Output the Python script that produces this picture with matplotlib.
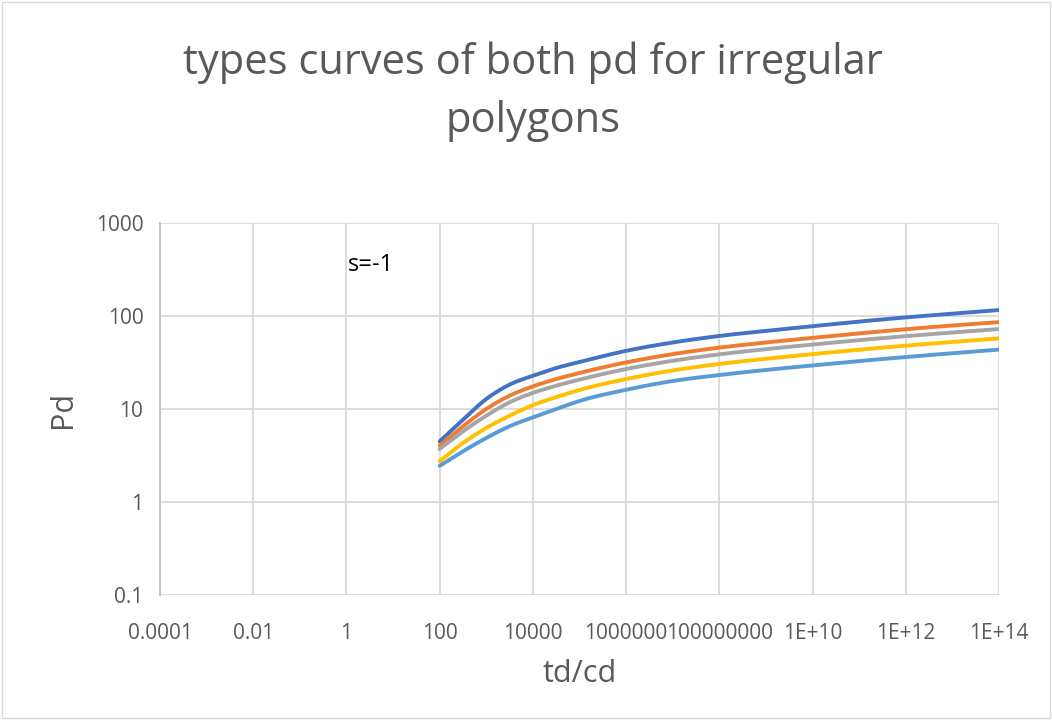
import numpy as np
import matplotlib.pyplot as plt
from matplotlib.ticker import FixedLocator, FixedFormatter, NullLocator

# the data
td = [1e2, 3.16e2, 1e3, 3.16e3, 1e4, 3.16e4, 1e5, 1e6, 1e7, 1e8, 1e9, 1e10,
      1e11, 1e12, 1e13, 1e14]
pd_blue = [4.49, 7.67, 12.8, 18.3, 22.8, 27.6, 32.0, 42.2, 51.9, 61.0, 69.2,
           77.6, 87.1, 96.6, 105.9, 115.9]
pd_orange = [4.04, 6.52, 10.0, 13.9, 17.5, 21.0, 24.4, 31.7, 38.9, 45.7, 51.9,
             58.2, 65.0, 72.1, 79.1, 85.9]
pd_gray = [3.72, 5.75, 8.47, 11.8, 14.9, 17.8, 20.7, 26.9, 33.0, 38.7, 44.0,
           49.3, 55.0, 60.7, 66.5, 72.4]
pd_yellow = [2.74, 4.31, 6.25, 8.47, 11.0, 13.4, 16.0, 21.0, 26.0, 30.5, 34.7,
             38.9, 43.4, 48.0, 52.6, 57.4]
pd_lightblue = [2.45, 3.51, 4.88, 6.52, 8.13, 10.0, 12.2, 16.1, 20.0, 23.2,
                26.3, 29.4, 32.8, 36.2, 39.8, 43.5]

xticks = [1e-4, 1e-2, 1, 1e2, 1e4, 1e6, 1e8, 1e10, 1e12, 1e14]
xtick_labels = ['0.0001', '0.01', '1', '100', '10000', '1000000', '100000000',
                '1E+10', '1E+12', '1E+14']
yticks = [0.1, 1, 10, 100, 1000]
ytick_labels = ['0.1', '1', '10', '100', '1000']

series = [
    (pd_blue, '#4472c4'),
    (pd_orange, '#ed7d31'),
    (pd_gray, '#a5a5a5'),
    (pd_yellow, '#ffc000'),
    (pd_lightblue, '#5b9bd5'),
]


def smooth(x, y, n=30):
    # cubic hermite through the points (in log-log space), like Excel smoothing
    x = np.asarray(x, float)
    y = np.asarray(y, float)
    m = np.gradient(y, x)
    xs, ys = [], []
    for i in range(len(x) - 1):
        h = x[i + 1] - x[i]
        t = np.linspace(0, 1, n, endpoint=False)
        h00 = 2 * t**3 - 3 * t**2 + 1
        h10 = t**3 - 2 * t**2 + t
        h01 = -2 * t**3 + 3 * t**2
        h11 = t**3 - t**2
        xs.append(x[i] + t * h)
        ys.append(h00 * y[i] + h10 * h * m[i] + h01 * y[i + 1] + h11 * h * m[i + 1])
    xs.append([x[-1]])
    ys.append([y[-1]])
    return np.concatenate(xs), np.concatenate(ys)


plt.rcParams['font.family'] = ['Open Sans', 'DejaVu Sans']
txt = '#595959'

fig = plt.figure(figsize=(10.52, 7.2), dpi=100)
ax = fig.add_axes([160 / 1052, 1 - 595 / 720, 839 / 1052, 372 / 720])

for vals, col in series:
    lx, ly = smooth(np.log10(td), np.log10(vals))
    ax.plot(10 ** lx, 10 ** ly, color=col, lw=2.8, solid_capstyle='round')

ax.set_xscale('log')
ax.set_yscale('log')
ax.set_xlim(1e-4, 1e14)
ax.set_ylim(0.1, 1000)
ax.xaxis.set_major_locator(FixedLocator(xticks))
ax.xaxis.set_major_formatter(FixedFormatter(xtick_labels))
ax.xaxis.set_minor_locator(NullLocator())
ax.yaxis.set_major_locator(FixedLocator(yticks))
ax.yaxis.set_major_formatter(FixedFormatter(ytick_labels))
ax.yaxis.set_minor_locator(NullLocator())
ax.grid(True, color='#d9d9d9', lw=1.3)
ax.set_axisbelow(True)
for s in ['top', 'right', 'bottom']:
    ax.spines[s].set_visible(False)
ax.spines['left'].set_color('#bfbfbf')
ax.spines['left'].set_linewidth(1.3)
ax.tick_params(length=0, labelsize=15, colors=txt)
ax.tick_params(axis='x', pad=20)
ax.tick_params(axis='y', pad=12)

ax.set_xlabel('td/cd', fontsize=22, color=txt, labelpad=11)
ax.set_ylabel('Pd', fontsize=22, color=txt, labelpad=13)

fig.text(371 / 1052, 1 - 265 / 720, 's=-1', fontsize=17, color='black',
         ha='center', va='center')

fig.text(533 / 1052, 1 - 92 / 720, 'types curves of both pd for irregular\npolygons',
         ha='center', va='center', fontsize=30, color=txt, linespacing=1.5)

# chart border
fig.patches.append(plt.Rectangle((0.002, 0.003), 0.996, 0.994, transform=fig.transFigure,
                                 fill=False, ec='#d9d9d9', lw=1))

fig.savefig('out.png', dpi=100)
